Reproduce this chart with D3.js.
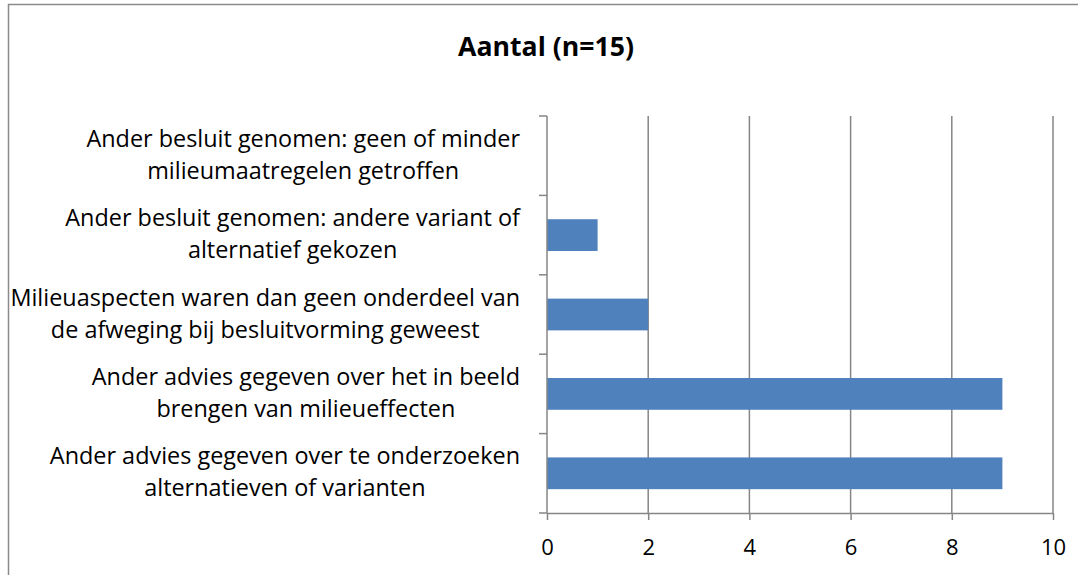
<!DOCTYPE html>
<html>
<head>
<meta charset="utf-8">
<script src="https://cdn.jsdelivr.net/npm/d3@7"></script>
<style>
  body { margin: 0; background: #fff; }
  svg text { font-family: "Open Sans", Lato, sans-serif; fill: #000; }
</style>
</head>
<body>
<div id="d3-container"></div>
<script>
// data
const categories = [
  ["Ander besluit genomen: geen of minder", "milieumaatregelen getroffen"],
  ["Ander besluit genomen: andere variant of", "alternatief gekozen"],
  ["Milieuaspecten waren dan geen onderdeel van", "de afweging bij besluitvorming geweest"],
  ["Ander advies gegeven over het in beeld", "brengen van milieueffecten"],
  ["Ander advies gegeven over te onderzoeken", "alternatieven of varianten"]
];
const values = [0, 1, 2, 9, 9];
const xTicks = [0, 2, 4, 6, 8, 10];
const title = "Aantal (n=15)";

const width = 1078, height = 575;
const margin = { top: 116, bottom: 62, left: 547, right: 25 };

const svg = d3.select("#d3-container")
  .append("svg")
  .attr("width", width)
  .attr("height", height);

// chart frame
svg.append("rect")
  .attr("x", 8.5).attr("y", 4.5)
  .attr("width", width + 10).attr("height", height + 10)
  .attr("fill", "none").attr("stroke", "#8a8a8a").attr("stroke-width", 1.5);

// title, sized to the width it takes in the original
const titleText = svg.append("text")
  .attr("x", 546).attr("y", 56)
  .attr("text-anchor", "middle")
  .style("font-size", "22px").style("font-weight", "bold")
  .text(title);
const tw = titleText.node().getComputedTextLength();
titleText.style("font-size", (22 * 176 / tw) + "px");

const x = d3.scaleLinear().domain([0, 10]).range([margin.left, width - margin.right]);
const y = d3.scaleBand()
  .domain(d3.range(categories.length))
  .range([margin.top, height - margin.bottom])
  .paddingInner(0.6).paddingOuter(0.3);

const grey = "#868686";

// vertical gridlines
svg.append("g")
  .selectAll("line")
  .data(xTicks.slice(1))
  .join("line")
  .attr("x1", d => x(d)).attr("x2", d => x(d))
  .attr("y1", margin.top).attr("y2", height - margin.bottom)
  .attr("stroke", grey).attr("stroke-width", 1.5);

// bars
svg.append("g")
  .selectAll("rect")
  .data(values)
  .join("rect")
  .attr("x", x(0))
  .attr("y", (d, i) => y(i))
  .attr("width", d => x(d) - x(0))
  .attr("height", y.bandwidth())
  .attr("fill", "#4f81bd");

// x axis
const xAxis = svg.append("g")
  .attr("transform", `translate(0,${height - margin.bottom})`)
  .call(d3.axisBottom(x).tickValues(xTicks).tickSize(7).tickPadding(19).tickSizeOuter(0));
xAxis.select(".domain").attr("stroke", grey).attr("stroke-width", 1.5);
xAxis.selectAll(".tick line").attr("stroke", grey).attr("stroke-width", 1.5);
xAxis.selectAll("text").style("font-size", "22px").style("font-family", "'Open Sans', sans-serif");

// y axis (category boundaries as ticks)
const boundaries = d3.range(categories.length + 1).map(i => margin.top + i * (height - margin.bottom - margin.top) / categories.length);
svg.append("line")
  .attr("x1", x(0)).attr("x2", x(0))
  .attr("y1", margin.top).attr("y2", height - margin.bottom)
  .attr("stroke", grey).attr("stroke-width", 1.5);
svg.append("g")
  .selectAll("line")
  .data(boundaries)
  .join("line")
  .attr("x1", x(0) - 8).attr("x2", x(0))
  .attr("y1", d => d).attr("y2", d => d)
  .attr("stroke", grey).attr("stroke-width", 1.5);

// category labels: two lines, centred on each other, right-aligned block
const labelRight = 520;
const labels = svg.append("g");
const groups = categories.map((lines, i) => {
  const cy = y(i) + y.bandwidth() / 2;
  const g = labels.append("g");
  return lines.map((t, j) => g.append("text")
    .attr("y", cy + (j - 0.5) * 32 + 7)
    .attr("text-anchor", "middle")
    .style("font-size", "20px")
    .text(t));
});
// fit so the widest line spans as in the original (about 510px)
const widest = d3.max(groups.flat(), t => t.node().getComputedTextLength());
const fs = 20 * 510 / widest;
groups.forEach(texts => {
  texts.forEach(t => t.style("font-size", fs + "px"));
  const maxW = d3.max(texts, t => t.node().getComputedTextLength());
  texts.forEach(t => t.attr("x", labelRight - maxW / 2));
});
</script>
</body>
</html>
